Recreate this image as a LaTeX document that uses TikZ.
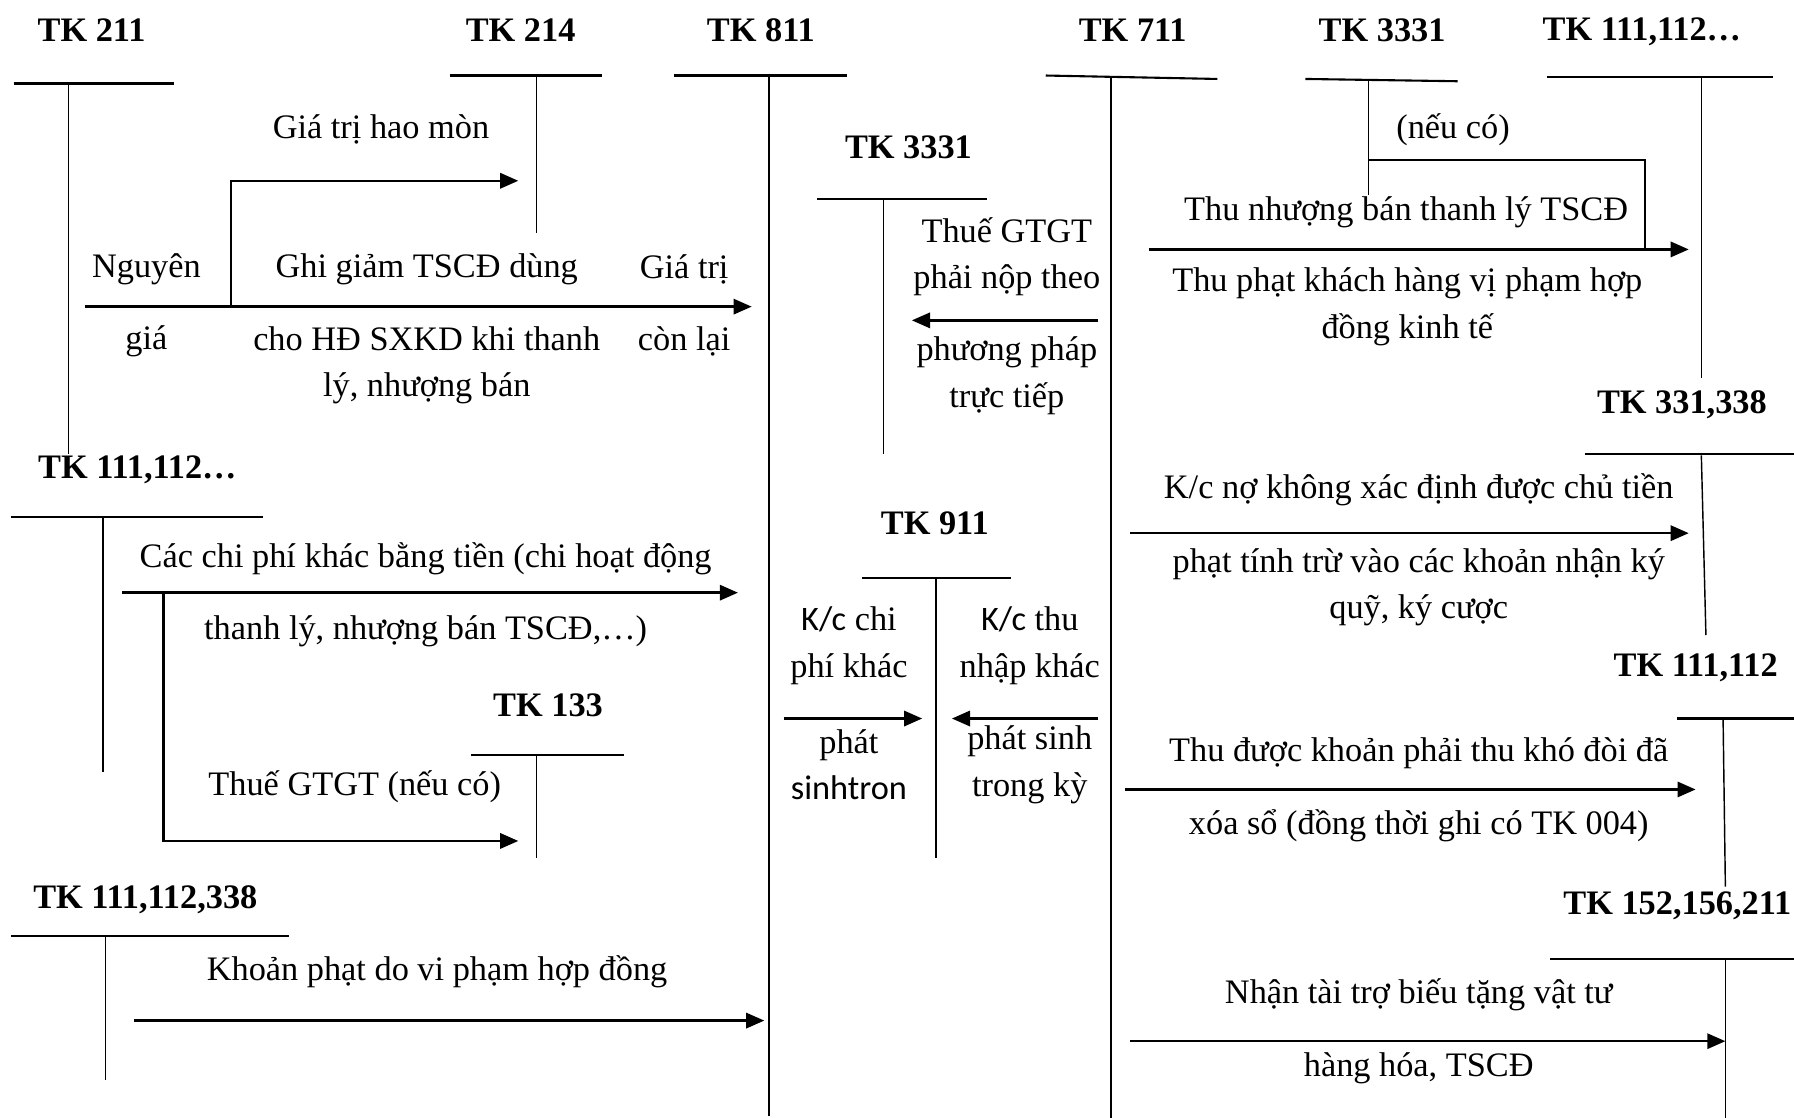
\documentclass[tikz,border=0pt]{standalone}
\usepackage{fontspec}
\setmainfont{Liberation Serif}
\newfontfamily\calfont{Carlito}
\usetikzlibrary{arrows.meta}

\newcommand\txtsize{\fontsize{18}{24.5}\selectfont}

\tikzset{
  tbar/.style={line width=1.1pt},
  tstem/.style={line width=0.75pt},
  flow/.style={line width=1.3pt,-{Triangle[length=9.5pt,width=8pt]}},
  joinline/.style={line width=1pt},
  acct/.style={font=\txtsize\bfseries,inner sep=0pt,yshift=-1pt},
  note/.style={font=\txtsize,align=center,inner sep=0pt,yshift=-2pt}
}

\begin{document}
\begin{tikzpicture}[x=0.6pt,y=-0.6pt]
\useasboundingbox (0,0) rectangle (1568,977);

% account names
\node[acct] (t211) at (80,25) {TK 211};
\node[acct] (t214) at (455,25) {TK 214};
\node[acct] (t811) at (665,25) {TK 811};
\node[acct] (t711) at (990,25) {TK 711};
\node[acct] (t3331a) at (1208,25) {TK 3331};
\node[acct] (t111a) at (1435,26) {TK 111,112…};
\node[acct] (t3331b) at (794,127) {TK 3331};
\node[acct] (t331) at (1470,352) {TK 331,338};
\node[acct] (t111b) at (120,409) {TK 111,112…};
\node[acct] (t911) at (817,456) {TK 911};
\node[acct] (t111c) at (1482,582) {TK 111,112};
\node[acct] (t133) at (479,615) {TK 133};
\node[acct] (t338) at (127,785) {TK 111,112,338};
\node[acct] (t152) at (1466,790) {TK 152,156,211};

% T shapes
\draw[tbar] (12,73) -- (152,73);
\draw[tstem] (60,73) -- (60,397);
\draw[tbar] (393,66) -- (526,66);
\draw[tstem] (469,66) -- (469,204);
\draw[tbar] (589,66) -- (740,66);
\draw[tstem] (672,66) -- (672,975);
\draw[tbar] (914,66) -- (1064,69);
\draw[tstem] (971,67) -- (971,977);
\draw[tbar] (1141,69) -- (1274,71);
\draw[tstem] (1196,70) -- (1196,170);
\draw[tbar] (1352,67) -- (1550,67);
\draw[tstem] (1487,67) -- (1487,330);
\draw[tbar] (714,174) -- (863,174);
\draw[tstem] (772,174) -- (772,397);
\draw[tbar] (1385,397) -- (1568,397);
\draw[tstem] (1487,398) -- (1491,555);
\draw[tbar] (10,452) -- (230,452);
\draw[tstem] (90,452) -- (90,675);
\draw[tbar] (753,505) -- (884,505);
\draw[tstem] (818,505) -- (818,750);
\draw[tbar] (1466,628) -- (1568,628);
\draw[tstem] (1506,628) -- (1508,775);
\draw[tbar] (412,660) -- (545,660);
\draw[tstem] (469,660) -- (469,750);
\draw[tbar] (10,818) -- (253,818);
\draw[tstem] (92,818) -- (92,944);
\draw[tbar] (1355,838) -- (1568,838);
\draw[tstem] (1508,838) -- (1508,977);

% arrow ends
\coordinate (gfrom) at (74,268);   \coordinate (gto) at (657,268);
\coordinate (hmfork) at (202,268); \coordinate (hmto) at (453,158);
\coordinate (vatfrom) at (960,280); \coordinate (vatto) at (797,280);
\coordinate (thufrom) at (1004,218); \coordinate (thuto) at (1476,218);
\coordinate (vata) at (1196,140); \coordinate (vatb) at (1438,140);
\coordinate (vatc) at (1438,218);
\coordinate (kcfrom) at (988,466); \coordinate (kcto) at (1476,466);
\coordinate (kdfrom) at (983,690); \coordinate (kdto) at (1482,690);
\coordinate (ttfrom) at (988,910); \coordinate (ttto) at (1508,910);
\coordinate (cpfrom) at (107,518); \coordinate (cpto) at (645,518);
\coordinate (cpfork) at (143,518); \coordinate (gtto) at (453,735);
\coordinate (kpfrom) at (117,892); \coordinate (kpto) at (668,892);
\coordinate (kcpfrom) at (685,628); \coordinate (kcpto) at (806,628);
\coordinate (kctfrom) at (960,628); \coordinate (kctto) at (832,628);

% arrows
\draw[flow] (gfrom) -- (gto);
\draw[flow] (hmfork) |- (hmto);
\draw[flow] (vatfrom) -- (vatto);
\draw[flow] (thufrom) -- (thuto);
\draw[joinline] (vata) -- (vatb) -- (vatc);
\draw[flow] (kcfrom) -- (kcto);
\draw[flow] (kdfrom) -- (kdto);
\draw[flow] (ttfrom) -- (ttto);
\draw[flow] (cpfrom) -- (cpto);
\draw[flow] (cpfork) |- (gtto);
\draw[flow] (kpfrom) -- (kpto);
\draw[flow] (kcpfrom) -- (kcpto);
\draw[flow] (kctfrom) -- (kctto);

% labels
\node[note] (hm) at (333,110) {Giá trị hao mòn};
\node[note] (ng1) at (128,232) {Nguyên};
\node[note] (ng2) at (128,295) {giá};
\node[note] (gg1) at (373,232) {Ghi giảm TSCĐ dùng};
\node[note] (gg2) at (373,316) {cho HĐ SXKD khi thanh\\lý, nhượng bán};
\node[note] (gt1) at (598,232) {Giá trị};
\node[note] (gt2) at (598,295) {còn lại};
\node[note] (vat1) at (880,221) {Thuế GTGT\\phải nộp theo};
\node[note] (vat2) at (880,325) {phương pháp\\trực tiếp};
\node[note] (nc) at (1270,110) {(nếu có)};
\node[note] (thu1) at (1229,182) {Thu nhượng bán thanh lý TSCĐ};
\node[note] (thu2) at (1230,265) {Thu phạt khách hàng vị phạm hợp\\đồng kinh tế};
\node[note] (kc1) at (1240,425) {K/c nợ không xác định được chủ tiền};
\node[note] (kc2) at (1240,510) {phạt tính trừ vào các khoản nhận ký\\quỹ, ký cược};
\node[note] (kd1) at (1240,655) {Thu được khoản phải thu khó đòi đã};
\node[note] (kd2) at (1240,718) {xóa sổ (đồng thời ghi có TK 004)};
\node[note] (tt1) at (1240,866) {Nhận tài trợ biếu tặng vật tư};
\node[note] (tt2) at (1240,930) {hàng hóa, TSCĐ};
\node[note] (cp1) at (372,485) {Các chi phí khác bằng tiền (chi hoạt động};
\node[note] (cp2) at (372,548) {thanh lý, nhượng bán TSCĐ,…)};
\node[note] (gtgt) at (310,684) {Thuế GTGT (nếu có)};
\node[note] (kp) at (382,846) {Khoản phạt do vi phạm hợp đồng};
\node[note] (kcp1) at (742,561) {{\calfont K/c} chi\\phí khác};
\node[note] (kcp2) at (742,665) {phát\\{\calfont sinhtron}};
\node[note] (kct1) at (900,561) {{\calfont K/c} thu\\nhập khác};
\node[note] (kct2) at (900,665) {phát sinh\\trong kỳ};
\end{tikzpicture}
\end{document}
